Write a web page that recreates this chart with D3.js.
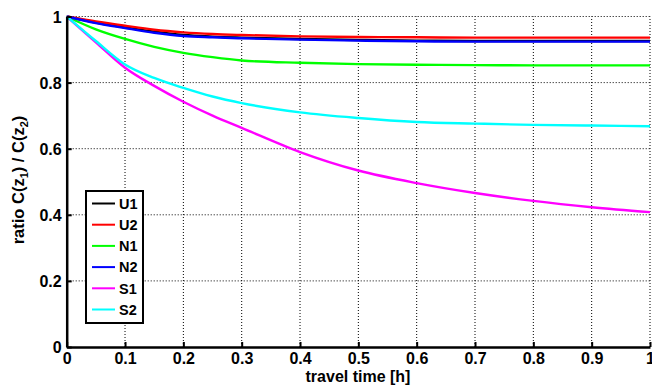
<!DOCTYPE html>
<html><head><meta charset="utf-8">
<script src="https://cdn.jsdelivr.net/npm/d3@7"></script>
<style>body{margin:0;background:#fff}svg{display:block}text{font-family:"Liberation Sans",Arial,sans-serif;font-weight:bold;fill:#000}</style>
</head><body><svg id="c" width="652" height="385"></svg>
<script>
const xs = [0,0.05,0.1,0.15,0.2,0.25,0.3,0.4,0.5,0.6,0.7,0.8,0.9,1.0];
const U1 = [1,0.982,0.967,0.954,0.944,0.939,0.936,0.932,0.929,0.927,0.926,0.926,0.926,0.926];
const U2 = [1,0.985,0.972,0.960,0.952,0.947,0.944,0.940,0.938,0.937,0.936,0.936,0.936,0.936];
const N1 = [1,0.961,0.932,0.908,0.890,0.877,0.867,0.860,0.856,0.854,0.853,0.852,0.852,0.852];
const N2 = [1,0.980,0.965,0.951,0.941,0.937,0.934,0.930,0.927,0.925,0.924,0.924,0.924,0.924];
const S1 = [1,0.922,0.845,0.790,0.742,0.700,0.663,0.590,0.534,0.496,0.466,0.442,0.423,0.408];
const S2 = [1,0.926,0.855,0.814,0.784,0.758,0.738,0.710,0.693,0.681,0.676,0.672,0.670,0.668];
const seriesNames = ["U1","U2","N1","N2","S1","S2"];
const seriesColors = ["#000000","#ff0000","#00ff00","#0000ff","#ff00ff","#00ffff"];
const seriesData = [U1,U2,N1,N2,S1,S2];
const xTicks = [0,0.1,0.2,0.3,0.4,0.5,0.6,0.7,0.8,0.9,1];
const yTicks = [0,0.2,0.4,0.6,0.8,1];

const svg = d3.select("#c");
const x = d3.scaleLinear().domain([0,1]).range([66.7,650]);
const y = d3.scaleLinear().domain([0,1]).range([347,16.5]);

// grid
const g = svg.append("g");
g.selectAll(".vg").data(xTicks.filter(d=>d>0)).enter().append("line")
 .attr("x1",d=>x(d)).attr("x2",d=>x(d)).attr("y1",y(0)).attr("y2",y(1))
 .attr("stroke","#000").attr("stroke-width",1).attr("stroke-dasharray","1,2");
g.selectAll(".hg").data(yTicks.filter(d=>d>0)).enter().append("line")
 .attr("y1",d=>y(d)).attr("y2",d=>y(d)).attr("x1",x(0)).attr("x2",x(1))
 .attr("stroke","#000").attr("stroke-width",1).attr("stroke-dasharray","1,2");

// lines
const line = d3.line().x((d,i)=>x(xs[i])).y(d=>y(d)).curve(d3.curveMonotoneX);
seriesData.forEach((s,k)=>{
  svg.append("path").attr("d",line(s)).attr("fill","none")
   .attr("stroke",seriesColors[k]).attr("stroke-width",2.4);
});

// axes
const xa = svg.append("g").attr("transform",`translate(0,${y(0)})`)
 .call(d3.axisBottom(x).tickValues(xTicks).tickFormat(d3.format("~g")).tickSizeInner(-5).tickSizeOuter(0).tickPadding(6));
const ya = svg.append("g").attr("transform",`translate(${x(0)},0)`)
 .call(d3.axisLeft(y).tickValues(yTicks).tickFormat(d3.format("~g")).tickSizeInner(-5).tickSizeOuter(0).tickPadding(5));
[xa,ya].forEach(a=>{
  a.select(".domain").attr("stroke","#000").attr("stroke-width",2.5);
  a.selectAll(".tick line").attr("stroke","#000").attr("stroke-width",2);
  a.selectAll("text").attr("font-size",16).attr("font-weight","bold").attr("font-family","Liberation Sans, Arial, sans-serif").attr("fill","#000");
});
ya.selectAll(".tick text").attr("dy","0.36em");

// axis labels
svg.append("text").attr("x",358).attr("y",382).attr("text-anchor","middle").attr("font-size",16).text("travel time [h]");
const yl = svg.append("text").attr("transform","translate(24,180) rotate(-90)").attr("text-anchor","middle").attr("font-size",16.5);
yl.append("tspan").text("ratio C(z");
yl.append("tspan").attr("font-size",11).attr("dy",4).text("1");
yl.append("tspan").attr("dy",-4).text(") / C(z");
yl.append("tspan").attr("font-size",11).attr("dy",4).text("2");
yl.append("tspan").attr("dy",-4).text(")");

// legend
const lg = svg.append("g");
lg.append("rect").attr("x",86).attr("y",191).attr("width",57).attr("height",132)
 .attr("fill","#fff").attr("stroke","#000").attr("stroke-width",2);
seriesNames.forEach((n,i)=>{
  const yy = 203.5 + i*21.2;
  lg.append("line").attr("x1",92).attr("x2",115).attr("y1",yy).attr("y2",yy)
   .attr("stroke",seriesColors[i]).attr("stroke-width",2);
  lg.append("text").attr("x",119).attr("y",yy).attr("dy","0.36em").attr("font-size",14.5).text(n);
});
</script></body></html>
